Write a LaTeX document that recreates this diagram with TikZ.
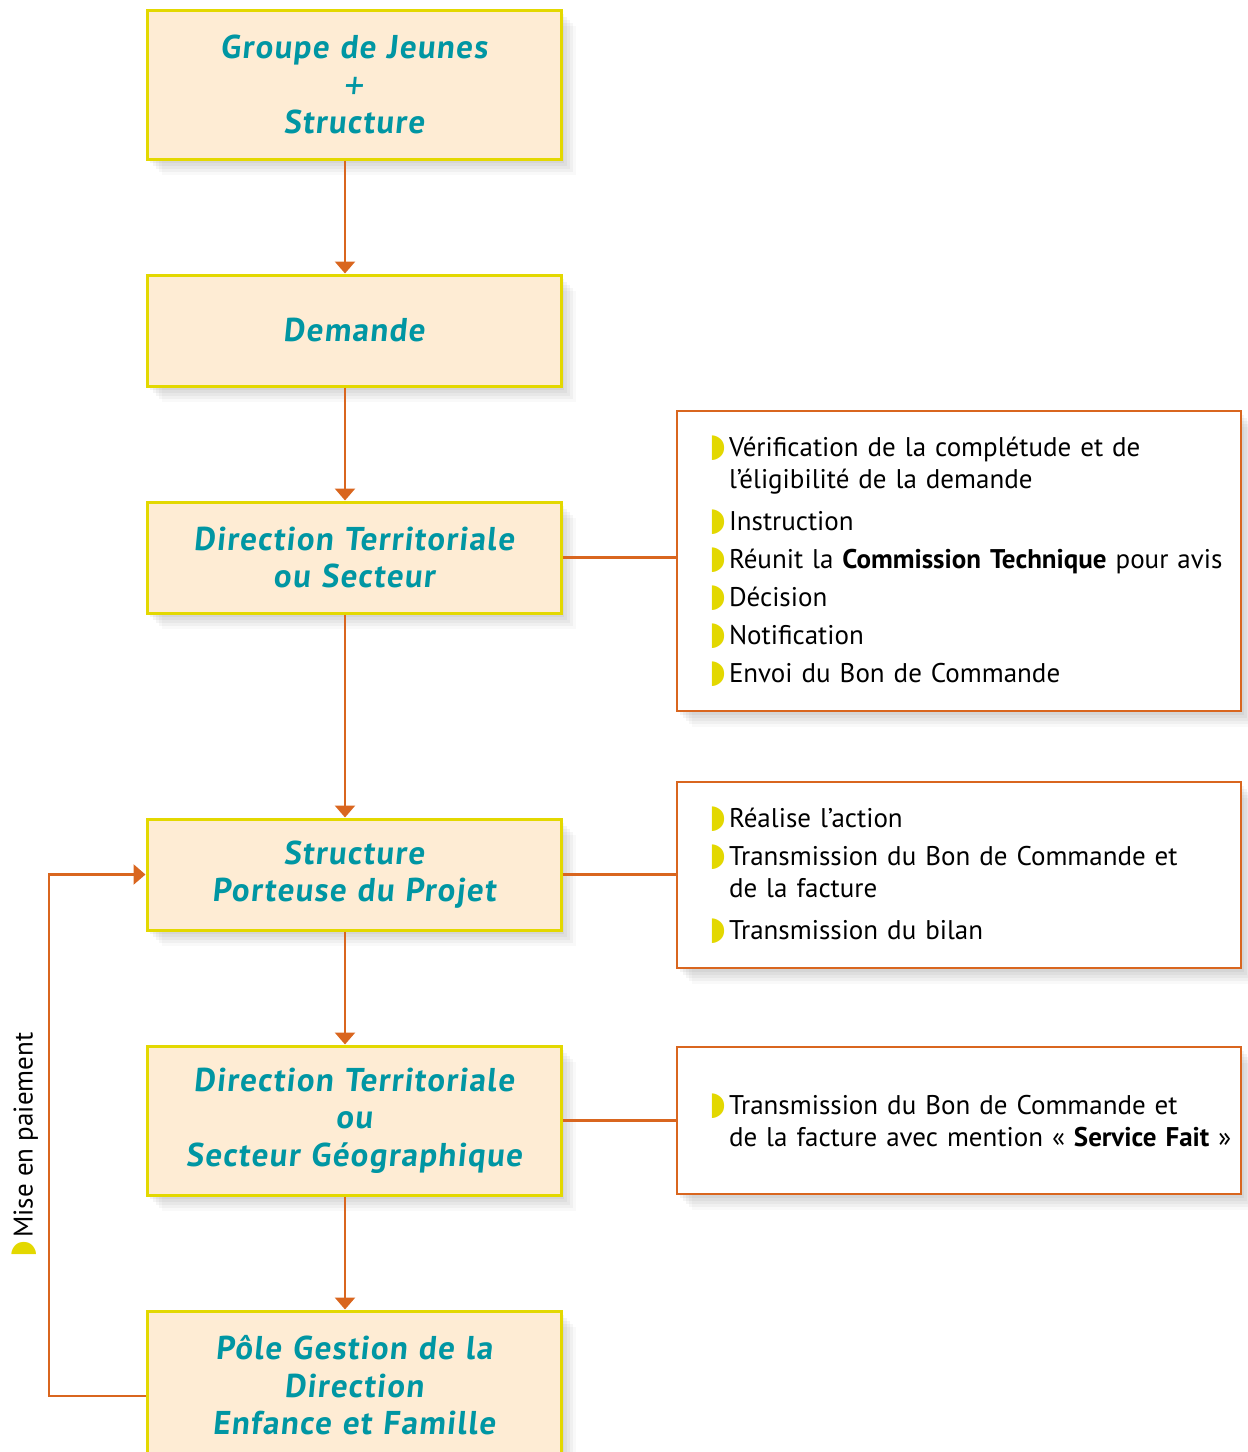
\documentclass[tikz,border=0pt]{standalone}
\usepackage{fontspec}
\setmainfont{PT Sans}
\newfontfamily\titrefont[FakeSlant=0.1,LetterSpace=4]{PT Sans}
\newfontfamily\pucefont{DejaVu Sans}
\usetikzlibrary{arrows.meta,shadows}

\definecolor{creme}{HTML}{FEECD4}
\definecolor{jaune}{HTML}{E3D800}
\definecolor{bleu}{HTML}{0096A3}
\definecolor{orangetrait}{HTML}{D9661F}

\newcommand{\puce}{\makebox[10pt][l]{\textcolor{jaune}{\pucefont\fontsize{16}{16}\selectfont ◗}}}

\tikzset{
  ombre/.style={
    drop shadow={shadow xshift=1.5pt,shadow yshift=-2pt,opacity=.09},
    drop shadow={shadow xshift=3pt,shadow yshift=-3.5pt,opacity=.09},
    drop shadow={shadow xshift=4.5pt,shadow yshift=-5pt,opacity=.08},
    drop shadow={shadow xshift=6pt,shadow yshift=-6.5pt,opacity=.07},
    drop shadow={shadow xshift=7.5pt,shadow yshift=-8pt,opacity=.05}},
  titrebox/.style={draw=jaune, line width=1.5pt, fill=creme, ombre,
    minimum width=207pt, text width=200pt, align=center, text=bleu,
    font=\titrefont\bfseries\fontsize{16.5}{18.75}\selectfont},
  textebox/.style={draw=orangetrait, line width=1.3pt, fill=white, ombre,
    minimum width=282pt, text width=250pt, align=left,
    font=\fontsize{13.5}{16}\selectfont},
  fleche/.style={draw=orangetrait, line width=1.3pt, -{Triangle[width=10pt,length=6pt]}},
  lien/.style={draw=orangetrait, line width=1.3pt}
}

\begin{document}
\begin{tikzpicture}[x=0.5pt,y=-0.5pt]
\useasboundingbox (0,0) rectangle (1248,1452);
% colonne de gauche
\node[titrebox, minimum height=74.5pt] (groupe) at (354,84.5) {Groupe de Jeunes\\\raisebox{-1.5pt}{\fontsize{20}{18.75}\selectfont\mdseries +}\\Structure};
\node[titrebox, minimum height=55.5pt] (demande) at (354,330.5) {Demande};
\node[titrebox, minimum height=55.5pt] (direction) at (354,557.5) {Direction Territoriale\\ou Secteur};
\node[titrebox, minimum height=55.5pt] (structure) at (354,874.5) {Structure\\Porteuse du Projet};
\node[titrebox, minimum height=74.5pt] (secteur) at (354,1120.5) {Direction Territoriale\\ou\\Secteur Géographique};
\node[titrebox, minimum height=74.5pt] (pole) at (354,1385.5) {Pôle Gestion de la\\Direction\\Enfance et Famille};
% colonne de droite
\node[textebox, minimum height=150pt] (verif) at (959,561) {%
\puce Vérification de la complétude et de\\
\hspace*{10pt}l’éligibilité de la demande\\[5pt]
\puce Instruction\\[3pt]
\mbox{\puce Réunit la \textbf{Commission Technique} pour avis}\\[3pt]
\puce Décision\\[3pt]
\puce Notification\\[3pt]
\puce Envoi du Bon de Commande};
\node[textebox, minimum height=93pt] (action) at (959,875) {%
\puce Réalise l’action\\[3pt]
\puce Transmission du Bon de Commande et\\
\hspace*{10pt}de la facture\\[5pt]
\puce Transmission du bilan};
\node[textebox, minimum height=73.5pt] (service) at (959,1120.5) {%
\puce Transmission du Bon de Commande et\\
\mbox{\hspace*{10pt}de la facture avec mention «~\textbf{Service Fait}~»}};
% fleches
\draw[fleche] ([xshift=-4.5pt]groupe.south) -- ([xshift=-4.5pt]demande.north);
\draw[fleche] ([xshift=-4.5pt]demande.south) -- ([xshift=-4.5pt]direction.north);
\draw[fleche] ([xshift=-4.5pt]direction.south) -- ([xshift=-4.5pt]structure.north);
\draw[fleche] ([xshift=-4.5pt]structure.south) -- ([xshift=-4.5pt]secteur.north);
\draw[fleche] ([xshift=-4.5pt]secteur.south) -- ([xshift=-4.5pt]pole.north);
\draw[lien] (direction.east) -- (verif.west |- direction.east);
\draw[lien] (structure.east) -- (action.west |- structure.east);
\draw[lien] (secteur.east) -- (service.west |- secteur.east);
% retour vers la structure
\coordinate (retour) at (49,1396);
\draw[fleche] (pole.west |- retour) -- (retour) |- (structure.west);
\node[rotate=90, anchor=west, inner sep=0pt, font=\fontsize{13.5}{16}\selectfont] (paiement) at (25,1258) {\puce Mise en paiement};
\end{tikzpicture}
\end{document}
